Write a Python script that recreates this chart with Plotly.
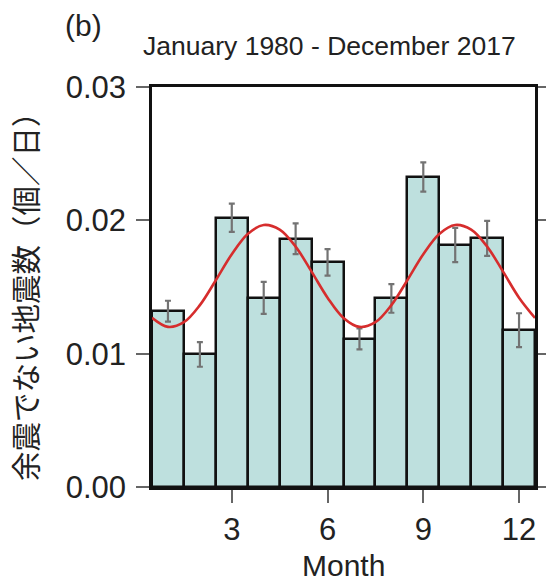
import plotly.graph_objects as go

months = list(range(1, 13))
rates = [0.01319, 0.00994, 0.02020, 0.01419, 0.01862, 0.01685,
         0.01111, 0.01414, 0.02325, 0.01815, 0.01865, 0.01176]
errors = [0.00078, 0.00092, 0.00106, 0.00120, 0.00115, 0.00099,
          0.00079, 0.00107, 0.00109, 0.00128, 0.00131, 0.00127]

fit_x = [0.5, 1.0, 1.5, 2.0, 2.5, 3.0, 3.5, 4.0, 4.5, 5.0, 5.5, 6.0, 6.5,
         7.0, 7.5, 8.0, 8.5, 9.0, 9.5, 10.0, 10.5, 11.0, 11.5, 12.0, 12.5]
fit_y = [0.01269, 0.01201, 0.01236, 0.01364, 0.01551, 0.01746, 0.01898,
         0.01965, 0.01930, 0.01803, 0.01615, 0.01420, 0.01268, 0.01201,
         0.01236, 0.01364, 0.01551, 0.01746, 0.01898, 0.01965, 0.01930,
         0.01803, 0.01615, 0.01420, 0.01268]

x_ticks = [3, 6, 9, 12]
y_ticks = [0.00, 0.01, 0.02, 0.03]

title_text = "January 1980 - December 2017"
panel_label = "(b)"
y_title = "余震でない地震数（個／日）"
x_title = "Month"

W, H = 546, 585
L, R, T, B = 152, 11, 87, 98
pw, ph = W - L - R, H - T - B


def px_x(p):
    return (p - L) / pw


def px_y(p):
    return (H - B - p) / ph


fig = go.Figure()
fig.add_trace(go.Bar(
    x=months, y=rates, width=1.0,
    marker=dict(color="rgb(190,224,222)", line=dict(color="#111111", width=2.5)),
    error_y=dict(type="data", array=errors, color="rgb(115,115,115)", thickness=2.2, width=3),
    showlegend=False,
))
fig.add_trace(go.Scatter(
    x=fit_x, y=fit_y, mode="lines", line=dict(color="rgb(214,45,45)", width=2.6, shape="spline"),
    showlegend=False,
))

fig.update_layout(
    width=W, height=H,
    margin=dict(l=L, r=R, t=T, b=B, pad=0),
    paper_bgcolor="white", plot_bgcolor="white",
    font=dict(family="Liberation Sans, Arial, sans-serif", color="#222222"),
    bargap=0,
    xaxis=dict(range=[0.5, 12.5], tickvals=x_ticks, ticks="outside", ticklen=13,
               tickwidth=1.5, tickcolor="#666666", showgrid=False, zeroline=False,
               showline=True, linecolor="#111111", linewidth=2.5, mirror=True,
               automargin=False, tickfont=dict(size=31, color="#222222")),
    yaxis=dict(range=[0, 0.03], tickvals=y_ticks, tickformat=".2f", ticks="outside",
               ticklen=13, tickwidth=1.5, tickcolor="#666666", showgrid=False,
               zeroline=False, showline=True, linecolor="#111111", linewidth=2.5,
               mirror="ticks", automargin=False, tickfont=dict(size=31, color="#222222"),
               ticklabelstandoff=4),
    annotations=[
        dict(text=title_text, x=px_x(329), y=px_y(46), xref="paper", yref="paper",
             showarrow=False, xanchor="center", yanchor="middle",
             font=dict(size=26.5, color="#222222")),
        dict(text=panel_label, x=px_x(63), y=px_y(26), xref="paper", yref="paper",
             showarrow=False, xanchor="left", yanchor="middle",
             font=dict(size=30, color="#222222")),
        dict(text=x_title, x=0.5, y=px_y(565), xref="paper", yref="paper",
             showarrow=False, xanchor="center", yanchor="middle",
             font=dict(size=30, color="#222222")),
        dict(text=y_title, x=px_x(24), y=px_y(289), xref="paper", yref="paper",
             showarrow=False, xanchor="center", yanchor="middle", textangle=-90,
             font=dict(size=29.5, family="Noto Sans CJK JP", color="#222222")),
    ],
)

fig.write_html("out.html")
